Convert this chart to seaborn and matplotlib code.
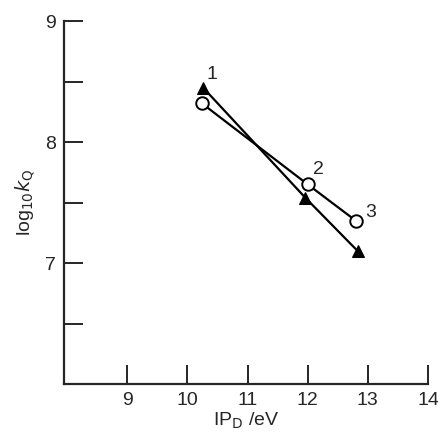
import matplotlib
matplotlib.use('Agg')
import matplotlib.pyplot as plt
import seaborn as sns
import pandas as pd

# ionisation potential of donor (eV) and log10 kQ
ip_tri = [10.26, 11.96, 12.83]
logk_tri = [8.45, 7.54, 7.10]
ip_circ = [10.24, 12.0, 12.8]
logk_circ = [8.32, 7.65, 7.35]
point_labels = ['1', '2', '3']

sns.set_style('ticks')
plt.rcParams['font.family'] = ['Liberation Sans', 'DejaVu Sans']

tri = pd.DataFrame({'ip': ip_tri, 'logk': logk_tri})
circ = pd.DataFrame({'ip': ip_circ, 'logk': logk_circ})

fig = plt.figure(figsize=(4.39, 4.38), dpi=100)
ax = fig.add_axes([0.146, 0.123, 0.829, 0.829])

sns.lineplot(data=tri, x='ip', y='logk', ax=ax, color='black', lw=1.6,
             marker='^', markersize=9, markerfacecolor='black',
             markeredgecolor='black', sort=False)
sns.lineplot(data=circ, x='ip', y='logk', ax=ax, color='black', lw=1.6,
             marker='o', markersize=9, markerfacecolor='white',
             markeredgecolor='black', markeredgewidth=1.4, sort=False)

# numbers next to the points
offsets = [(0.14, 0.11), (0.17, 0.12), (0.24, 0.07)]
for i, lab in enumerate(point_labels):
    x = ip_circ[i] if i else ip_tri[i]
    y = logk_circ[i] if i else logk_tri[i]
    ax.text(x + offsets[i][0], y + offsets[i][1], lab, fontsize=14,
            ha='center', va='center')

ax.set_xlim(7.95, 14.0)
ax.set_ylim(6.0, 9.0)
ax.set_xticks([9, 10, 11, 12, 13, 14])
ax.set_yticks([6.5, 7, 7.5, 8, 8.5, 9])
ax.set_yticklabels(['', '7', '', '8', '', '9'])
ax.tick_params(direction='in', length=14, width=1.4, labelsize=14, pad=6)
sns.despine(ax=ax)
for s in ['left', 'bottom']:
    ax.spines[s].set_linewidth(1.6)

ax.set_xlabel(r'IP$_\mathrm{D}$ /eV', fontsize=14, labelpad=1)
ax.set_ylabel(r'log$_{10}$$k_\mathrm{Q}$', fontsize=14, labelpad=6)

fig.savefig('out.png', dpi=100)
